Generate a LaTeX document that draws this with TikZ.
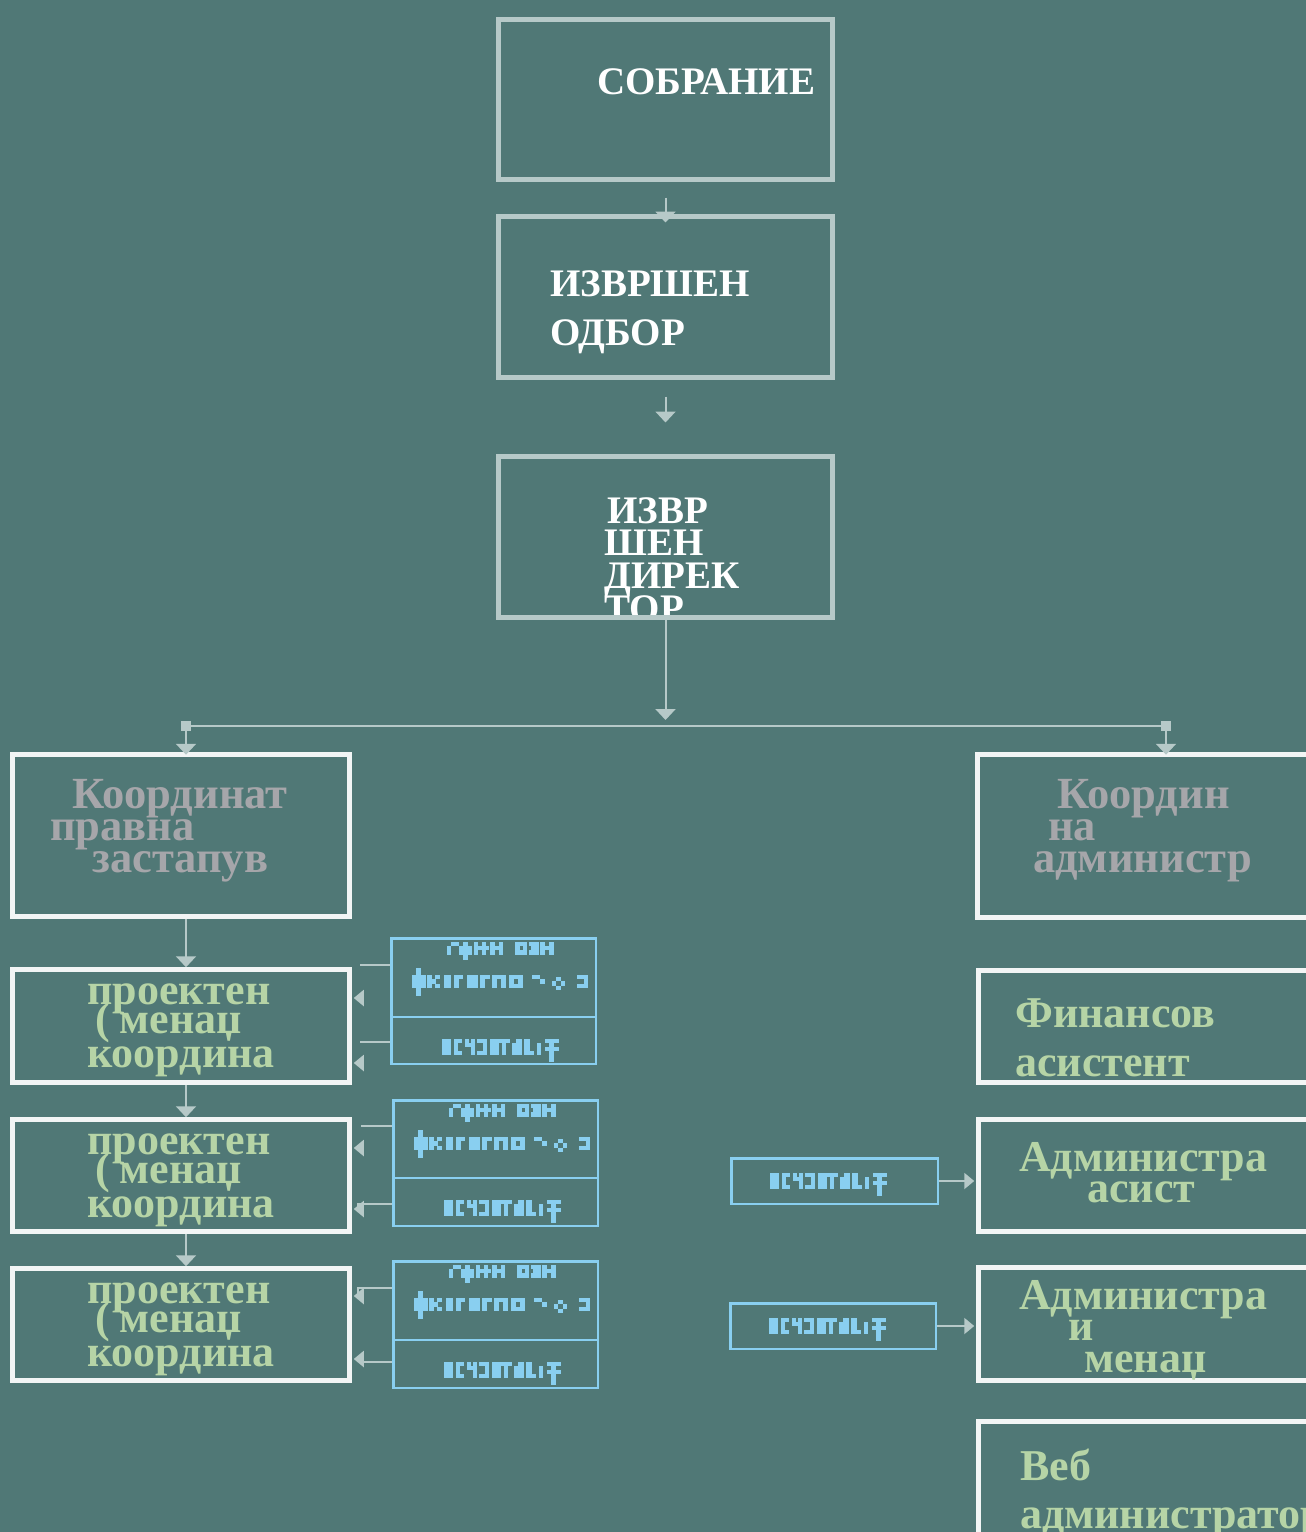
\documentclass[tikz,border=0pt]{standalone}
\usepackage{fontspec}
\setmainfont{Liberation Serif}
\usetikzlibrary{arrows.meta,calc}
\definecolor{bg}{RGB}{80,120,118}
\definecolor{tgray}{RGB}{182,201,200}
\definecolor{bwhite}{RGB}{242,245,245}
\definecolor{gtext}{RGB}{166,166,170}
\definecolor{ntext}{RGB}{182,212,166}
\definecolor{sky}{RGB}{137,207,240}
\newcommand{\pixw}[3]{\foreach \a/\b/\c/\d in #3 {\fill[sky] ({#1+\a*3.33},{#2+\b*3.33}) rectangle ({#1+\c*3.33},{#2+\d*3.33});}}
\def\wtop{0/1.3/1.3/3.8, 1.3/0/3.5/1.3, 3.5/1.3/4.8/3.8, 4.8/0/6.2/5.3, 6.2/1.3/7.5/3.8, 8/0/9.3/3.8, 10.5/0/11.8/3.8, 8/1.3/12.5/2.5, 13/0/14.3/3.8, 14.3/1.3/16.8/2.5, 15.5/0/16.8/3.8, 20.5/0/24/1.3, 20.5/2.5/24/3.8, 20.5/0/21.8/3.8, 22.7/0/24/3.8, 24.5/0/27.5/1.3, 26.2/0/27.5/3.8, 24.5/2.5/27.5/3.8, 25.2/1.3/27.5/2.5, 28/0/29.3/3.8, 30.7/0/32/3.8, 28/1.3/32/2.5}
\def\wmid{1.3/0/2.8/8.5, 0/2/4.2/6, 4.5/2/6/6, 6/3.3/7.2/4.7, 7/2/8.4/3.3, 7/4.7/8.4/6, 9.5/2/11.8/6, 12.5/2/14/6, 14/2/15.3/3.3, 16.5/2/19.8/6, 20.5/2/22/6, 22/2/23.3/3.3, 24/2/28.3/3.3, 24/3.3/25.5/6, 26.8/3.3/28.3/6, 29/2/33.3/3.3, 29/3.3/30.5/6, 31.8/3.3/33.3/6, 30.5/4.7/31.8/6, 36/2/38.5/3.3, 38.5/3.3/39.8/4.7, 42/4/43.3/5.3, 43.3/2.7/44.6/4, 43.3/5.3/44.6/6.6, 44.6/4/45.9/5.3, 49.5/2/53/3.3, 51.7/3.3/53/6, 49.5/4.7/51.7/6}
\def\wbot{0/0/2.7/4.8, 3.5/0/4.7/4.8, 4.7/0/6/1.3, 4.7/3.5/6/4.8, 7/0/8/2.5, 7/1.3/10/2.5, 8.7/0/10/4.8, 10.5/0/13.5/1.3, 12.2/0/13.5/4.8, 10.5/3.5/13.5/4.8, 14.5/0/17/4.8, 17/0/20.5/1.3, 18/0/19.3/4.8, 21/1.3/22.3/4.8, 22.3/0/24/4.8, 24.5/0/26.5/4.8, 26.5/3.5/27.5/4.8, 28.5/1.3/29.8/4.8, 31/0/35/1.3, 32/0/33.5/6.8, 31/2.3/35/3.5}
\begin{document}
\begin{tikzpicture}[x=1pt,y=-1pt,
  tbox/.style={draw=tgray, line width=5pt, inner sep=0pt, minimum width=334pt},
  wbox/.style={draw=bwhite, line width=4.5pt, inner sep=0pt},
  bbox/.style={draw=sky, line width=2.5pt, inner sep=0pt},
  bline/.style={draw=sky, line width=2pt},
  gline/.style={draw=tgray, line width=2pt},
  conn/.style={draw=tgray, line width=2pt, -{Triangle[width=20pt,length=11pt]}},
  sconn/.style={draw=tgray, line width=2pt, -{Triangle[width=16pt,length=10pt]}},
  sq/.style={fill=tgray, minimum size=10pt, inner sep=0pt},
  wt/.style={anchor=base west, inner sep=0pt, text=white, font=\fontsize{39}{39}\selectfont\bfseries},
  gt/.style={anchor=base west, inner sep=0pt, text=gtext, font=\fontsize{44.5}{44.5}\selectfont\bfseries},
  nt/.style={anchor=base west, inner sep=0pt, text=ntext, font=\fontsize{44}{44}\selectfont\bfseries}]
\useasboundingbox (0,0) rectangle (1306,1532);
\fill[bg] (0,0) rectangle (1306,1532);
% clipped text of the director box
\begin{scope}
\clip (498.5,456.5) rectangle (832.5,617.5);
\node[wt] (t3a) at (607,523) {ИЗВР};
\node[wt] (t3b) at (604,555) {ШЕН};
\node[wt] (t3c) at (604,588) {ДИРЕК};
\node[wt] (t3d) at (604,621) {ТОР};
\end{scope}
% top boxes
\node[tbox, minimum height=160pt] (s) at (665.5,99.5) {};
\node[tbox, minimum height=161pt] (i) at (665.5,297) {};
\node[tbox, minimum height=161pt] (d) at (665.5,537) {};
\node[wt] (t1) at (597,94) {СОБРАНИЕ};
\node[wt] (t2a) at (550,296) {ИЗВРШЕН};
\node[wt] (t2b) at (550,345) {ОДБОР};
% left column
\node[wbox, minimum width=337pt, minimum height=162pt] (cl) at (181,835.5) {};
\node[wbox, minimum width=337pt, minimum height=113pt] (p1) at (181,1026) {};
\node[wbox, minimum width=337pt, minimum height=112pt] (p2) at (181,1175.5) {};
\node[wbox, minimum width=337pt, minimum height=112pt] (p3) at (181,1324.5) {};
% right column
\node[wbox, minimum width=395pt, minimum height=163pt] (cr) at (1175,836) {};
\node[wbox, minimum width=394pt, minimum height=112pt] (r1) at (1175.5,1026.5) {};
\node[wbox, minimum width=394pt, minimum height=112pt] (r2) at (1175.5,1175.5) {};
\node[wbox, minimum width=394pt, minimum height=113pt] (r3) at (1175.5,1324) {};
\node[wbox, minimum width=394pt, minimum height=176pt] (r4) at (1175.5,1509.5) {};
% blue boxes
\node[bbox, minimum width=204.5pt, minimum height=125.5pt] (b1) at (493.5,1001) {};
\node[bbox, minimum width=204.5pt, minimum height=125.5pt] (b2) at (495.5,1163) {};
\node[bbox, minimum width=204.5pt, minimum height=126.5pt] (b3) at (495.5,1324.5) {};
\node[bbox, minimum width=206.5pt, minimum height=45.5pt] (rb1) at (834.5,1181) {};
\node[bbox, minimum width=205.5pt, minimum height=45.5pt] (rb2) at (833,1326) {};
\draw[bline] (b1.west |- 0,1017) -- (b1.east |- 0,1017);
\draw[bline] (b2.west |- 0,1178) -- (b2.east |- 0,1178);
\draw[bline] (b3.west |- 0,1340) -- (b3.east |- 0,1340);
% pixel words
\pixw{447}{942}{\wtop}
\pixw{412}{968}{\wmid}
\pixw{442}{1039}{\wbot}
\pixw{449}{1104}{\wtop}
\pixw{414}{1130}{\wmid}
\pixw{444}{1200}{\wbot}
\pixw{449}{1265}{\wtop}
\pixw{414}{1291}{\wmid}
\pixw{444}{1362}{\wbot}
\pixw{770}{1173}{\wbot}
\pixw{769}{1318}{\wbot}
% texts
\node[gt] (cla) at (72,808) {Координат};
\node[gt] (clb) at (50,840) {правна};
\node[gt] (clc) at (92,872) {застапув};
\node[gt] (cra) at (1057,808) {Координ};
\node[gt] (crb) at (1048,840) {на};
\node[gt] (crc) at (1033,872) {администр};
\node[nt] (p1a) at (87,1004) {проектен};
\node[nt] (p1b) at (95,1033) {(\hspace{10pt}менаџ};
\node[nt] (p1c) at (87,1067) {координа};
\node[nt] (p2a) at (87,1154) {проектен};
\node[nt] (p2b) at (95,1183) {(\hspace{10pt}менаџ};
\node[nt] (p2c) at (87,1217) {координа};
\node[nt] (p3a) at (87,1303) {проектен};
\node[nt] (p3b) at (95,1332) {(\hspace{10pt}менаџ};
\node[nt] (p3c) at (87,1366) {координа};
\node[nt] (r1a) at (1015,1027) {Финансов};
\node[nt] (r1b) at (1015,1076) {асистент};
\node[nt] (r2a) at (1019,1171) {Администра};
\node[nt] (r2b) at (1087,1202) {асист};
\node[nt] (r3a) at (1019,1309) {Администра};
\node[nt] (r3b) at (1068,1340) {и};
\node[nt] (r3c) at (1084,1372) {менаџ};
\node[nt] (r4a) at (1020,1480) {Веб};
\node[nt] (r4b) at (1020,1528) {администратор};
% connectors
\draw[conn] ([yshift=-15.5pt]s.south) -- ([yshift=-8.5pt]i.north);
\draw[conn] ([yshift=-16.5pt]i.south) -- ([yshift=31.5pt]d.north);
\coordinate (bus) at (665.5,726);
\node[sq] (sqL) at (186,726) {};
\node[sq] (sqR) at (1166,726) {};
\draw[gline] (sqL) -- (sqR);
\draw[conn] (d.south) -- ([yshift=6pt]bus);
\draw[conn] (sqL) -- ($(sqL |- cl.north)+(0,2.5)$);
\draw[conn] (sqR) -- ($(sqR |- cr.north)+(0,2.5)$);
\draw[conn] (cl.south -| sqL) -- (p1.north -| sqL);
\draw[conn] (p1.south -| sqL) -- (p2.north -| sqL);
\draw[conn] (p2.south -| sqL) -- (p3.north -| sqL);
\draw[sconn] (b1.west |- 0,965) -- (360,965) (360,998) -- ($(p1.east |- 0,998)+(2,0)$);
\draw[sconn] (b1.west |- 0,1042) -- (360,1042) (360,1063) -- ($(p1.east |- 0,1063)+(2,0)$);
\draw[sconn] (b2.west |- 0,1126) -- (361,1126) (361,1148) -- ($(p2.east |- 0,1148)+(2,0)$);
\draw[sconn] (b2.west |- 0,1204) -- (358,1204) -- (358,1209) -- ($(p2.east |- 0,1209)+(2,0)$);
\draw[sconn] (b3.west |- 0,1288) -- (358,1288) -- (358,1296) -- ($(p3.east |- 0,1296)+(2,0)$);
\draw[sconn] (b3.west |- 0,1362) -- (360,1362) -- (360,1359) -- ($(p3.east |- 0,1359)+(2,0)$);
\draw[sconn] (rb1.east) -- ($(rb1.east -| r2.west)+(-2,0)$);
\draw[sconn] (rb2.east) -- ($(rb2.east -| r3.west)+(-2,0)$);
\end{tikzpicture}
\end{document}
